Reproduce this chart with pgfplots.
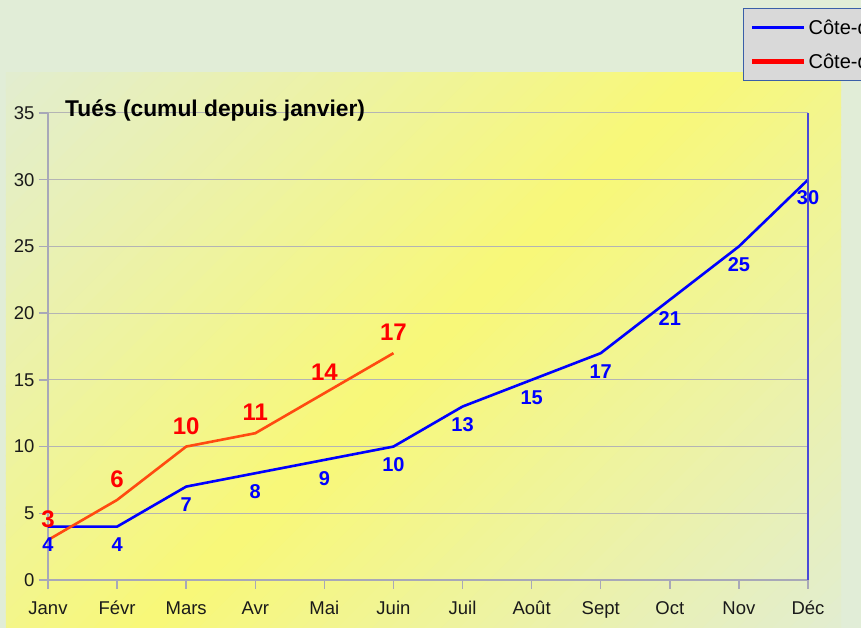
\documentclass[border=0pt]{standalone}
\usepackage{pgfplots}
\pgfplotsset{compat=1.18}
\usepackage{fontspec}
\setmainfont{Liberation Sans}
\definecolor{bgout}{HTML}{E1EDD7}
\definecolor{ygreen}{HTML}{E2EDD0}
\definecolor{yyellow}{HTML}{F8F878}
\definecolor{gridc}{HTML}{B4B4B4}
\definecolor{axisc}{HTML}{A8A8B8}
\definecolor{rline}{HTML}{FF4A10}
\definecolor{txt}{HTML}{1A1A1A}
\definecolor{legfill}{HTML}{D9D9D9}
\definecolor{legdraw}{HTML}{3A5FA8}
\definecolor{rightax}{HTML}{4A4AD8}
\begin{document}
\begin{tikzpicture}
\useasboundingbox (-48pt,-48pt) rectangle (813pt,580pt);
\fill[bgout] (-48pt,-48pt) rectangle (813pt,580pt);
\begin{scope}
\clip (-42pt,-48pt) rectangle (793pt,507pt);
\begin{scope}[shift={(-42pt,507pt)}, rotate=-45]
\foreach \i in {0,...,79} {
  \pgfmathsetmacro\t{(\i+0.5)/80}
  \pgfmathsetmacro\w{100*(1-abs(2*\t-1))}
  \fill[yyellow!\w!ygreen] ({\i*12.3pt-0.5pt},-700pt) rectangle ({(\i+1)*12.3pt+0.5pt},700pt);
}
\end{scope}
\end{scope}
\begin{axis}[
  scale only axis, width=760pt, height=467pt,
  xmin=0, xmax=11, ymin=0, ymax=35,
  xtick={0,...,11},
  xticklabels={Janv,Févr,Mars,Avr,Mai,Juin,Juil,Août,Sept,Oct,Nov,Déc},
  ytick={0,5,...,35},
  /pgf/number format/assume math mode=true,
  ymajorgrids, grid style={gridc, line width=1pt},
  axis x line*=bottom, axis y line*=left,
  axis line style={-, axisc, line width=1.5pt},
  tick style={axisc, line width=1.5pt},
  major tick length=9pt, tick align=outside,
  ticklabel style={font=\fontsize{18.5}{21}\selectfont, text=txt},
  yticklabel style={xshift=-1pt},
  xticklabel style={text height=14pt, text depth=4pt, yshift=-8pt},
  clip=false,
  legend image code/.code={\draw[#1] (0pt,0pt) -- (52pt,0pt);},
  legend cell align=left,
  legend style={at={(rel axis cs:0.9145,1.2248)}, anchor=north west,
    fill=legfill, draw=legdraw, line width=1.2pt,
    font=\fontsize{20}{23}\selectfont, row sep=14pt, inner xsep=6pt, inner ysep=9pt,
    /tikz/every even column/.append style={column sep=8pt}},
]
\addlegendimage{blue, line width=3pt}
\addlegendentry{Côte-d'Or 2011}
\addlegendimage{red, line width=5pt}
\addlegendentry{Côte-d'Or 2012}
\addplot[blue, line width=2.6pt, forget plot,
  nodes near coords,
  every node near coord/.style={anchor=north, inner sep=0pt, yshift=-10pt,
    font=\fontsize{20}{22}\selectfont\bfseries, text=blue}]
  coordinates {(0,4) (1,4) (2,7) (3,8) (4,9) (5,10) (6,13) (7,15) (8,17) (9,21) (10,25) (11,30)};
\addplot[rline, line width=2.6pt, forget plot,
  nodes near coords,
  every node near coord/.style={anchor=south, inner sep=0pt, yshift=11pt,
    font=\fontsize{24}{26}\selectfont\bfseries, text=red}]
  coordinates {(0,3) (1,6) (2,10) (3,11) (4,14) (5,17)};
\draw[rightax, line width=1.5pt] (rel axis cs:1,0) -- (rel axis cs:1,1);
\node[anchor=base west, inner sep=0pt, font=\fontsize{22.8}{25}\selectfont\bfseries, text=black]
  at ([xshift=17pt,yshift=-4pt]rel axis cs:0,1) {Tués (cumul depuis janvier)};
\end{axis}
\end{tikzpicture}
\end{document}
